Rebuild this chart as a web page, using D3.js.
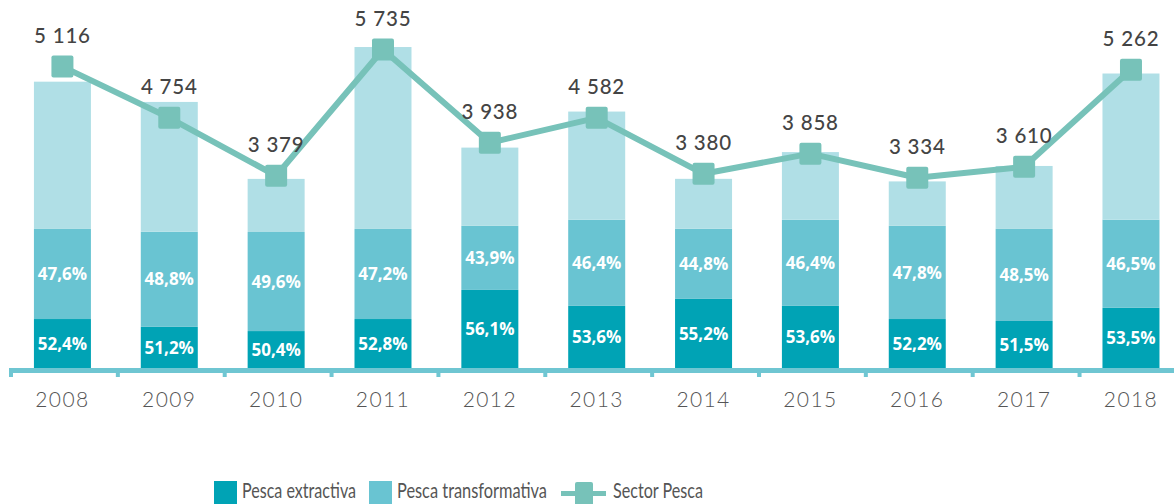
<!DOCTYPE html>
<html>
<head>
<meta charset="utf-8">
<script src="https://cdn.jsdelivr.net/npm/d3@7"></script>
<style>
  html, body { margin: 0; padding: 0; background: #fff; }
  svg { display: block; }
</style>
</head>
<body>
<svg id="chart"></svg>
<script>
// years on the x axis
var years = ["2008", "2009", "2010", "2011", "2012", "2013", "2014", "2015", "2016", "2017", "2018"];

// Sector Pesca totals (labels over the line, also the bar heights)
var sectorTotal = [5116, 4754, 3379, 5735, 3938, 4582, 3380, 3858, 3334, 3610, 5262];
// level at which the Sector Pesca markers sit in the picture
var sectorLine = [5385, 4470, 3435, 5690, 4025, 4470, 3470, 3830, 3400, 3595, 5330];

// bottom segments (same units as the totals)
var extractiva = [875, 735, 660, 875, 1395, 1110, 1235, 1110, 875, 840, 1075];
var transformativa = [1610, 1700, 1770, 1610, 1145, 1540, 1255, 1540, 1665, 1645, 1575];

// percentage labels
var pctExtractiva = [52.4, 51.2, 50.4, 52.8, 56.1, 53.6, 55.2, 53.6, 52.2, 51.5, 53.5];
var pctTransformativa = [47.6, 48.8, 49.6, 47.2, 43.9, 46.4, 44.8, 46.4, 47.8, 48.5, 46.5];

var legendLabels = ["Pesca extractiva", "Pesca transformativa", "Sector Pesca"];

var width = 1174,
    height = 504;

var colDark = "#00a3b5",
    colMid = "#69c4d2",
    colLight = "#b0dfe6",
    colLine = "#77c2b9",
    colAxis = "#6fc6d2";

var es = d3.formatLocale({ decimal: ",", thousands: " ", grouping: [3], currency: ["", ""] });
var fmtInt = es.format(",d"),
    fmtPct = es.format(".1f");

var rows = years.map(function (y, i) {
    return {
        year: y,
        total: sectorTotal[i],
        line: sectorLine[i],
        extr: extractiva[i],
        transf: transformativa[i],
        rest: sectorTotal[i] - extractiva[i] - transformativa[i],
        pE: pctExtractiva[i],
        pT: pctTransformativa[i]
    };
});

var svg = d3.select("#chart")
    .attr("width", width)
    .attr("height", height);

var x = d3.scaleBand()
    .domain(years)
    .range([9, 1184.4])
    .paddingInner(0.4666)
    .paddingOuter(0.2333);

var y = d3.scaleLinear()
    .domain([0, 6000])
    .range([368, 32.2]);

var stack = d3.stack().keys(["extr", "transf", "rest"]);
var series = stack(rows);
var fills = [colDark, colMid, colLight];

svg.append("g")
    .selectAll("g")
    .data(series)
    .enter()
    .append("g")
    .attr("fill", function (d, i) { return fills[i]; })
    .selectAll("rect")
    .data(function (d) { return d; })
    .enter()
    .append("rect")
    .attr("x", function (d) { return x(d.data.year); })
    .attr("width", x.bandwidth())
    .attr("y", function (d) { return y(d[1]); })
    .attr("height", function (d) { return y(d[0]) - y(d[1]); });

// axis: thick baseline with small ticks between the bands
var step = x.step();
var axisG = svg.append("g");
axisG.append("rect")
    .attr("x", x.range()[0])
    .attr("y", y(0))
    .attr("width", width - x.range()[0])
    .attr("height", 5)
    .attr("fill", colAxis);
axisG.selectAll("rect.tick")
    .data(d3.range(years.length + 1))
    .enter()
    .append("rect")
    .attr("class", "tick")
    .attr("x", function (i) { return x.range()[0] + i * step; })
    .attr("y", y(0) + 3)
    .attr("width", 4)
    .attr("height", 6)
    .attr("fill", colAxis);

axisG.selectAll("text")
    .data(years)
    .enter()
    .append("text")
    .attr("x", function (d) { return x(d) + x.bandwidth() / 2; })
    .attr("y", 407)
    .attr("text-anchor", "middle")
    .style("font-family", "Lato, sans-serif")
    .style("font-weight", 300)
    .style("font-size", "21px")
    .style("letter-spacing", "1.4px")
    .style("fill", "#555")
    .text(function (d) { return d; });

// percentage labels inside the segments
var pctG = svg.append("g")
    .style("font-family", "'Open Sans', sans-serif")
    .style("font-weight", 700)
    .style("font-size", "17px")
    .style("fill", "#fff")
    .attr("text-anchor", "middle");

pctG.selectAll("text.pe")
    .data(rows)
    .enter()
    .append("text")
    .attr("x", function (d) { return x(d.year) + x.bandwidth() / 2; })
    .attr("y", function (d) { return y(d.extr / 2); })
    .attr("dy", "0.36em")
    .text(function (d) { return fmtPct(d.pE) + "%"; });

pctG.selectAll("text.pt")
    .data(rows)
    .enter()
    .append("text")
    .attr("x", function (d) { return x(d.year) + x.bandwidth() / 2; })
    .attr("y", function (d) { return y(d.extr + d.transf / 2); })
    .attr("dy", "0.36em")
    .text(function (d) { return fmtPct(d.pT) + "%"; });

// Sector Pesca line
var cx = function (d) { return x(d.year) + x.bandwidth() / 2; };
var line = d3.line()
    .x(cx)
    .y(function (d) { return y(d.line); });

svg.append("path")
    .datum(rows)
    .attr("d", line)
    .attr("fill", "none")
    .attr("stroke", colLine)
    .attr("stroke-width", 6)
    .attr("stroke-linejoin", "round");

svg.append("g")
    .selectAll("rect")
    .data(rows)
    .enter()
    .append("rect")
    .attr("x", function (d) { return cx(d) - 11; })
    .attr("y", function (d) { return y(d.line) - 11; })
    .attr("width", 22)
    .attr("height", 22)
    .attr("rx", 2)
    .attr("fill", colLine);

svg.append("g")
    .selectAll("text")
    .data(rows)
    .enter()
    .append("text")
    .attr("x", cx)
    .attr("y", function (d) { return y(d.line) - 24; })
    .attr("text-anchor", "middle")
    .style("font-family", "Lato, sans-serif")
    .style("font-weight", 500)
    .style("font-size", "20.5px")
    .style("letter-spacing", "0.8px")
    .style("fill", "#444")
    .text(function (d) { return fmtInt(d.total); });

// legend
var legend = svg.append("g")
    .style("font-family", "Lato, sans-serif")
    .style("font-size", "21px")
    .style("fill", "#555");

legend.append("rect").attr("x", 214).attr("y", 481).attr("width", 23).attr("height", 23).attr("fill", colDark);
legend.append("text").attr("x", 242).attr("y", 498).attr("textLength", 114).attr("lengthAdjust", "spacingAndGlyphs").text(legendLabels[0]);

legend.append("rect").attr("x", 369).attr("y", 481).attr("width", 23).attr("height", 23).attr("fill", colMid);
legend.append("text").attr("x", 397).attr("y", 498).attr("textLength", 150).attr("lengthAdjust", "spacingAndGlyphs").text(legendLabels[1]);

legend.append("line").attr("x1", 561).attr("x2", 606).attr("y1", 493.5).attr("y2", 493.5).attr("stroke", colLine).attr("stroke-width", 5);
legend.append("rect").attr("x", 575).attr("y", 482).attr("width", 18).attr("height", 24).attr("rx", 2).attr("fill", colLine);
legend.append("text").attr("x", 613).attr("y", 498).attr("textLength", 90).attr("lengthAdjust", "spacingAndGlyphs").text(legendLabels[2]);
</script>
</body>
</html>
